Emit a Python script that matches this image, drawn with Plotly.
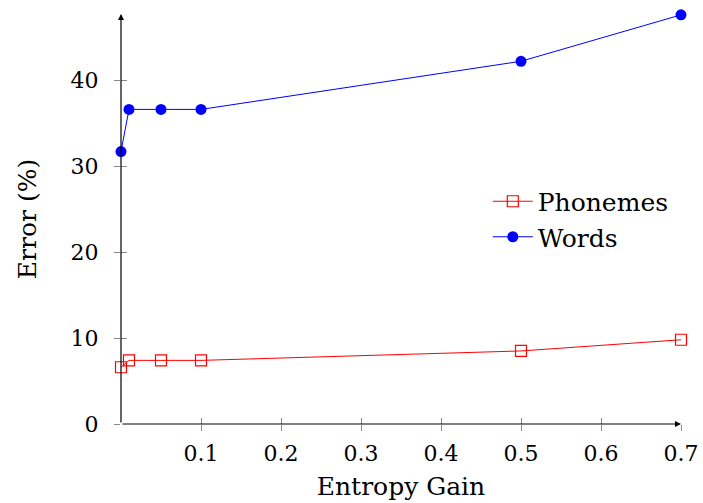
import plotly.graph_objects as go

entropy_gain = [0, 0.01, 0.05, 0.1, 0.5, 0.7]
phonemes = [6.6, 7.4, 7.4, 7.4, 8.5, 9.8]
words = [31.7, 36.6, 36.6, 36.6, 42.2, 47.6]
x_ticks = [0.1, 0.2, 0.3, 0.4, 0.5, 0.6, 0.7]
y_ticks = [0, 10, 20, 30, 40]

FONT = "DejaVu Serif"
XR = [0, 0.7]
YR = [0, 47.7]

fig = go.Figure()
fig.add_trace(go.Scatter(
    x=entropy_gain, y=phonemes, name="Phonemes", mode="lines+markers",
    line=dict(color="red", width=1),
    marker=dict(symbol="square-open", size=11, color="red", line=dict(width=1.2)),
    cliponaxis=False))
fig.add_trace(go.Scatter(
    x=entropy_gain, y=words, name="Words", mode="lines+markers",
    line=dict(color="blue", width=1),
    marker=dict(symbol="circle", size=11, color="blue"),
    cliponaxis=False))

# overlay axes for inward half of crossing ticks
fig.add_trace(go.Scatter(x=[None], y=[None], xaxis="x2", yaxis="y2", showlegend=False))

axis_common = dict(showgrid=False, zeroline=False, color="black", automargin=False,
                   tickfont=dict(family=FONT, size=22, color="black"))

fig.update_layout(
    width=703, height=503,
    margin=dict(l=121, r=22, t=14, b=79, autoexpand=False),
    plot_bgcolor="white", paper_bgcolor="white",
    font=dict(family=FONT, size=22, color="black"),
    xaxis=dict(range=XR, tickvals=x_ticks, ticktext=[f"{v:g}" for v in x_ticks],
               ticks="outside", ticklen=6, tickcolor="#888", tickwidth=1,
               showline=False, ticklabelstandoff=4,
               title=dict(text="Entropy Gain", font=dict(family=FONT, size=25), standoff=12),
               **axis_common),
    yaxis=dict(range=YR, tickvals=y_ticks, ticks="outside", ticklen=6, tickcolor="#888",
               tickwidth=1, showline=False, ticklabelstandoff=11,
               title=dict(text="Error (%)", font=dict(family=FONT, size=25), standoff=26),
               **axis_common),
    xaxis2=dict(range=XR, overlaying="x", tickvals=x_ticks, ticks="inside", ticklen=6,
                tickcolor="#888", showticklabels=False, showgrid=False, zeroline=False,
                automargin=False),
    yaxis2=dict(range=YR, overlaying="y", tickvals=y_ticks, ticks="inside", ticklen=6,
                tickcolor="#888", showticklabels=False, showgrid=False, zeroline=False,
                automargin=False),
    legend=dict(x=0.655, y=0.5, xanchor="left", yanchor="middle",
                font=dict(family=FONT, size=25), bgcolor="rgba(0,0,0,0)",
                itemwidth=40, tracegroupgap=0),
    showlegend=True,
)

# axis lines with arrowheads
fig.add_annotation(x=0, y=YR[1], ax=0, ay=0, xref="x", yref="y", axref="x", ayref="y",
                   showarrow=True, arrowhead=2, arrowsize=1, arrowwidth=1.2,
                   arrowcolor="black", text="")
fig.add_annotation(x=XR[1], y=0, ax=0, ay=0, xref="x", yref="y", axref="x", ayref="y",
                   showarrow=True, arrowhead=2, arrowsize=1, arrowwidth=1.2,
                   arrowcolor="black", text="")

fig.write_html("out.html")
